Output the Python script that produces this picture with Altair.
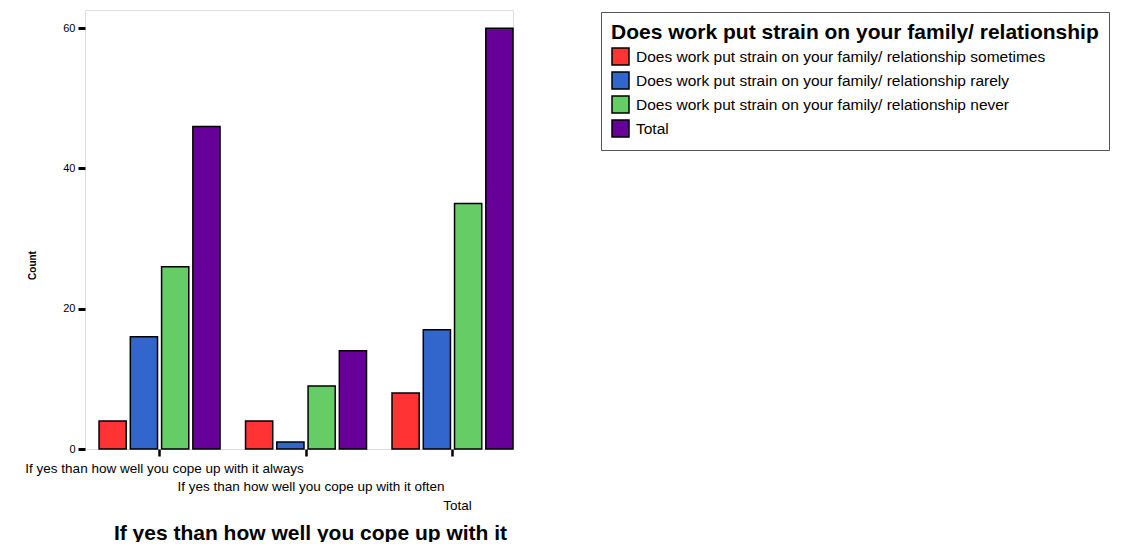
import altair as alt
import pandas as pd

cope = [
    "If yes than how well you cope up with it always",
    "If yes than how well you cope up with it often",
    "Total",
]
strain = [
    "Does work put strain on your family/ relationship sometimes",
    "Does work put strain on your family/ relationship rarely",
    "Does work put strain on your family/ relationship never",
    "Total",
]
sometimes = [4, 4, 8]
rarely = [16, 1, 17]
never = [26, 9, 35]
total = [46, 14, 60]
colors = ["#ff3333", "#3366cc", "#66cc66", "#660099"]

series = [sometimes, rarely, never, total]
rows = []
for s_name, vals in zip(strain, series):
    for c, v in zip(cope, vals):
        rows.append({"cope": c, "strain": s_name, "count": v})
df = pd.DataFrame(rows)

FONT = "Liberation Sans"

label_pad = {
    "condition": [
        {"test": "datum.value == 'Total'", "value": 42},
        {"test": "indexof(datum.value, 'often') >= 0", "value": 23.5},
    ],
    "value": 5,
}

chart = (
    alt.Chart(df)
    .mark_bar(stroke="black", strokeWidth=1.5)
    .encode(
        x=alt.X(
            "cope:N",
            sort=cope,
            scale=alt.Scale(paddingInner=0.174, paddingOuter=0.048, align=1),
            axis=alt.Axis(
                title="If yes than how well you cope up with it",
                titleFont=FONT,
                titleFontSize=21,
                titleFontWeight="bold",
                titleColor="black",
                titleX=225,
                titleY=73,
                titleAlign="center",
                titleBaseline="top",
                labelAngle=0,
                labelFont=FONT,
                labelFontSize=13.5,
                labelColor="black",
                labelPadding=label_pad,
                labelLimit=0,
                labelOverlap=False,
                labelBound=False,
                labelFlush=False,
                labelOffset=5,
                labelBaseline="top",
                domain=False,
                ticks=True,
                tickColor="black",
                tickWidth=2.5,
                tickSize=7,
                grid=False,
            ),
        ),
        xOffset=alt.XOffset(
            "strain:N",
            sort=strain,
            scale=alt.Scale(paddingInner=0.13, paddingOuter=0),
        ),
        y=alt.Y(
            "count:Q",
            scale=alt.Scale(domain=[0, 62.6], nice=False, zero=True),
            axis=alt.Axis(
                title="Count",
                titleFont=FONT,
                titleFontSize=10,
                titleFontWeight="bold",
                titleColor="black",
                titleAngle=270,
                titleX=-53,
                titleY=255,
                titleAlign="center",
                titleBaseline="middle",
                values=[0, 20, 40, 60],
                labelFont=FONT,
                labelFontSize=11,
                labelColor="black",
                labelPadding=3,
                domain=False,
                tickColor="black",
                tickWidth=3,
                tickSize=7,
                grid=False,
            ),
        ),
        color=alt.Color(
            "strain:N",
            sort=strain,
            scale=alt.Scale(domain=strain, range=colors),
            legend=alt.Legend(
                title="Does work put strain on your family/ relationship",
                orient="none",
                legendX=516,
                legendY=2,
                direction="vertical",
                titleFont=FONT,
                titleFontSize=21,
                titleFontWeight="bold",
                titleColor="black",
                titleLimit=0,
                titlePadding=4,
                labelFont=FONT,
                labelFontSize=15.5,
                labelColor="black",
                labelLimit=0,
                labelOffset=6,
                symbolType="square",
                symbolSize=289,
                symbolStrokeColor="black",
                symbolStrokeWidth=1.5,
                symbolOpacity=1,
                rowPadding=1,
                padding=10,
                strokeColor="#555555",
                fillColor="white",
            ),
        ),
    )
    .properties(
        width=428,
        height=439,
        autosize=alt.AutoSizeParams(type="none"),
        padding={"left": 77, "top": 2, "right": 618, "bottom": 93},
    )
    .configure_view(stroke="#777777", strokeWidth=1)
    .configure(background="white")
)

chart.save("out.html", embed_options={"renderer": "svg", "actions": False})
